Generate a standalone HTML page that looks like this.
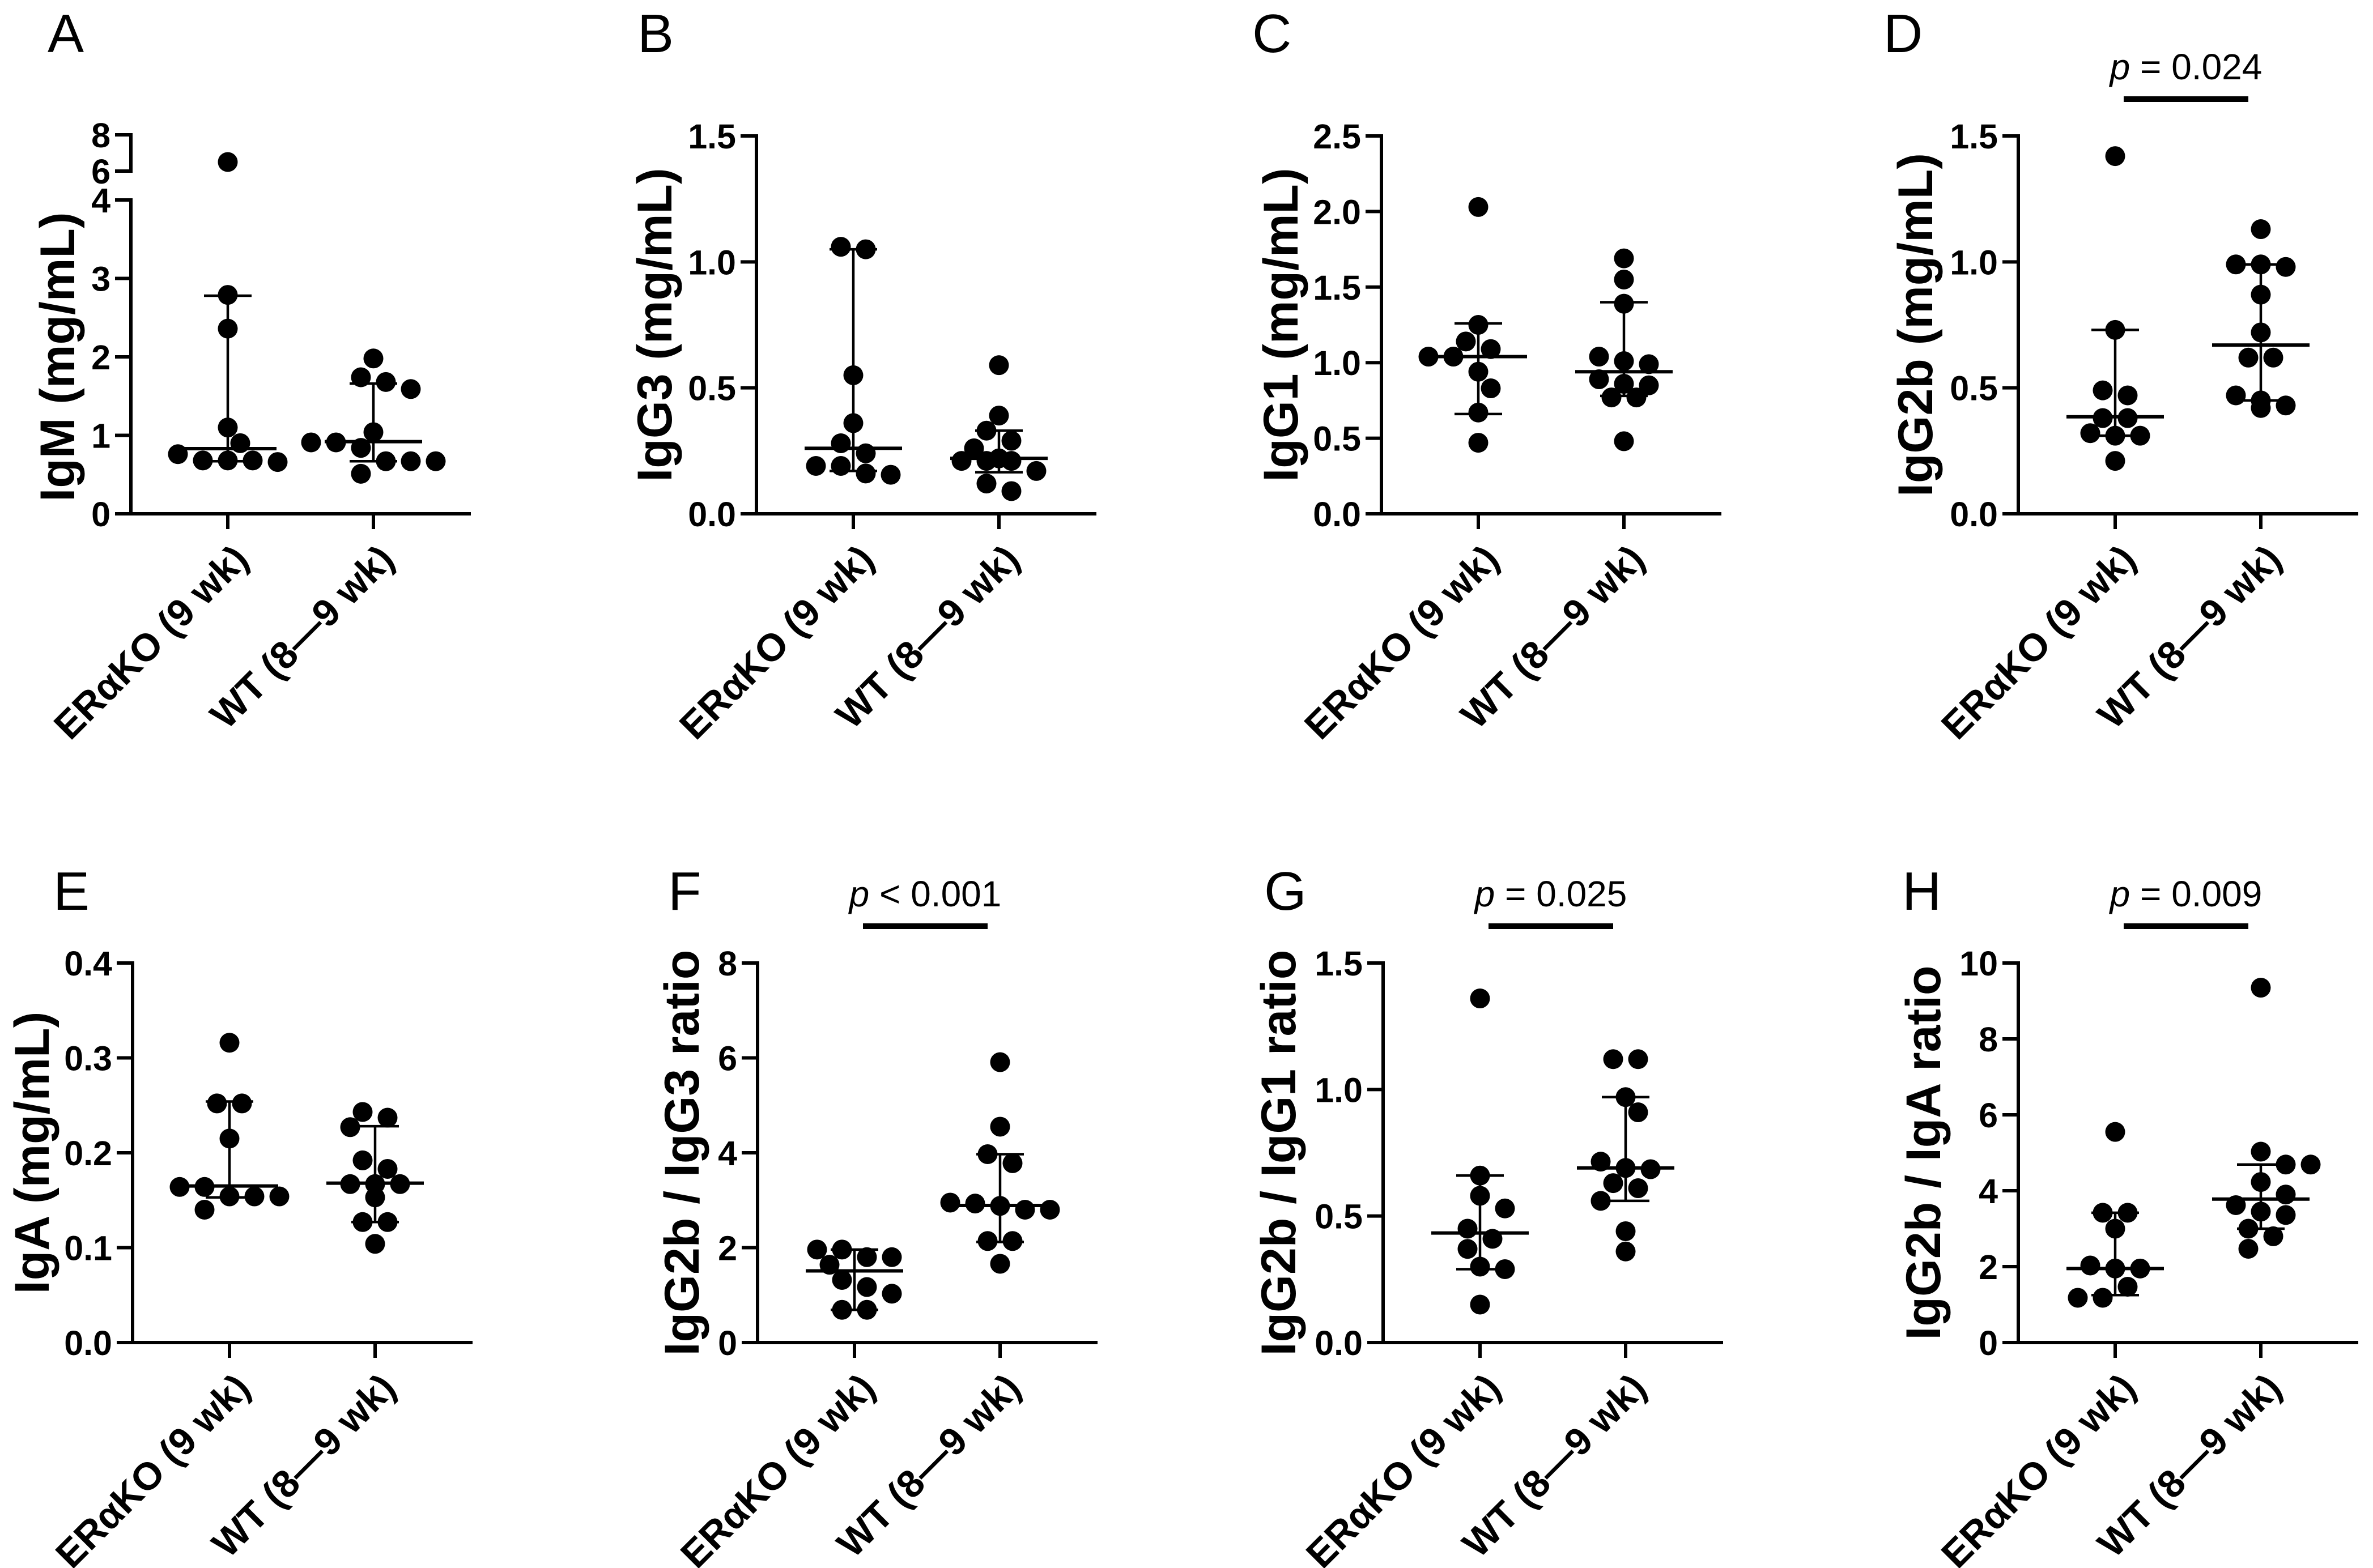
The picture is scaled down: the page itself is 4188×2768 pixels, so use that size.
<!DOCTYPE html>
<html><head><meta charset="utf-8"><style>
html,body{margin:0;padding:0;background:#fff;}
svg{display:block;}
text{font-family:"Liberation Sans",Arial,sans-serif;fill:#000;}
</style></head>
<body>
<svg id="fig" width="4188" height="2768" viewBox="0 0 4188 2768" xmlns="http://www.w3.org/2000/svg">
<rect width="4188" height="2768" fill="#fff"/>
</svg>
<script>
const categories = ["ERαKO (9 wk)", "WT (8—9 wk)"];
// Panel A IgM
const aErako = [6.5, 2.79, 2.36, 1.10, 0.90, 0.76, 0.68, 0.68, 0.66, 0.68];
const aWt = [1.98, 1.74, 1.68, 1.59, 1.04, 0.91, 0.91, 0.84, 0.67, 0.67, 0.67, 0.51];
const aMedian = [0.83, 0.92]; const aQ1 = [0.67, 0.67]; const aQ3 = [2.78, 1.66];
const aTicks = [0, 1, 2, 3, 4]; const aBreakTicks = [6, 8];
// Panel B IgG3
const bErako = [1.06, 1.05, 0.55, 0.36, 0.28, 0.24, 0.19, 0.19, 0.16, 0.155];
const bWt = [0.59, 0.39, 0.33, 0.29, 0.26, 0.21, 0.22, 0.21, 0.21, 0.17, 0.12, 0.09];
const bMedian = [0.26, 0.22]; const bQ1 = [0.17, 0.165]; const bQ3 = [1.05, 0.33];
const bTicks = [0, 0.5, 1.0, 1.5];
// Panel C IgG1
const cErako = [2.03, 1.25, 1.14, 1.09, 1.04, 1.04, 0.94, 0.83, 0.67, 0.47];
const cWt = [1.69, 1.55, 1.39, 1.04, 1.01, 0.99, 0.89, 0.86, 0.85, 0.77, 0.77, 0.48];
const cMedian = [1.04, 0.94]; const cQ1 = [0.66, 0.78]; const cQ3 = [1.26, 1.40];
const cTicks = [0, 0.5, 1.0, 1.5, 2.0, 2.5];
// Panel D IgG2b
const dErako = [1.42, 0.73, 0.49, 0.47, 0.38, 0.38, 0.31, 0.32, 0.31, 0.21];
const dWt = [1.13, 0.98, 0.99, 0.99, 0.87, 0.72, 0.62, 0.62, 0.47, 0.45, 0.43, 0.42];
const dMedian = [0.385, 0.67]; const dQ1 = [0.31, 0.45]; const dQ3 = [0.73, 0.99];
const dTicks = [0, 0.5, 1.0, 1.5];
// Panel E IgA
const eErako = [0.316, 0.252, 0.252, 0.215, 0.164, 0.164, 0.154, 0.154, 0.154, 0.14];
const eWt = [0.243, 0.237, 0.227, 0.192, 0.183, 0.167, 0.167, 0.167, 0.153, 0.127, 0.127, 0.104];
const eMedian = [0.165, 0.168]; const eQ1 = [0.153, 0.127]; const eQ3 = [0.254, 0.228];
const eTicks = [0, 0.1, 0.2, 0.3, 0.4];
// Panel F IgG2b/IgG3
const fErako = [1.96, 1.96, 1.8, 1.8, 1.64, 1.32, 1.17, 1.03, 0.69, 0.69];
const fWt = [5.91, 4.55, 3.97, 3.78, 2.95, 2.93, 2.88, 2.8, 2.8, 2.14, 2.14, 1.66];
const fMedian = [1.51, 2.89]; const fQ1 = [0.69, 2.12]; const fQ3 = [1.96, 3.97];
const fTicks = [0, 2, 4, 6, 8];
// Panel G IgG2b/IgG1
const gErako = [1.36, 0.66, 0.58, 0.53, 0.45, 0.41, 0.37, 0.30, 0.29, 0.15];
const gWt = [1.12, 1.12, 0.97, 0.91, 0.715, 0.69, 0.685, 0.63, 0.61, 0.56, 0.44, 0.36];
const gMedian = [0.433, 0.69]; const gQ1 = [0.29, 0.56]; const gQ3 = [0.66, 0.97];
const gTicks = [0, 0.5, 1.0, 1.5];
// Panel H IgG2b/IgA
const hErako = [5.55, 3.42, 3.42, 3.0, 2.03, 1.95, 1.95, 1.47, 1.18, 1.18];
const hWt = [9.35, 5.03, 4.69, 4.69, 4.23, 3.9, 3.62, 3.45, 3.36, 3.0, 2.8, 2.47];
const hMedian = [1.95, 3.78]; const hQ1 = [1.25, 3.0]; const hQ3 = [3.42, 4.69];
const hTicks = [0, 2, 4, 6, 8, 10];
const pLabels = ["p = 0.024", "p < 0.001", "p = 0.025", "p = 0.009"];

const NS = "http://www.w3.org/2000/svg";
const svg = document.getElementById("fig");
function mk(tag, attrs, parent) {
  const e = document.createElementNS(NS, tag);
  for (const k in attrs) e.setAttribute(k, attrs[k]);
  (parent || svg).appendChild(e);
  return e;
}
const R = 17.5;
const SP = 44;

function layoutGroup(ys) {
  // rows of near-equal values, centered; shift row if colliding with earlier rows
  const idx = ys.map((y, i) => i).sort((a, b) => ys[a] - ys[b]);
  const rows = [];
  idx.forEach(i => {
    const last = rows[rows.length - 1];
    if (last && ys[i] - ys[last[0]] < 18) last.push(i); else rows.push([i]);
  });
  const out = new Array(ys.length);
  const placed = [];
  rows.forEach(row => {
    const n = row.length;
    const shifts = [0, SP / 2, -SP / 2, SP, -SP, 1.5 * SP, -1.5 * SP];
    let chosen = 0;
    for (const s of shifts) {
      const ok = row.every((i, k) => {
        const x = (k - (n - 1) / 2) * SP + s;
        return placed.every(p => Math.hypot(p.x - x, p.y - ys[i]) >= 2 * R - 2);
      });
      if (ok) { chosen = s; break; }
    }
    row.forEach((i, k) => {
      const x = (k - (n - 1) / 2) * SP + chosen;
      out[i] = x;
      placed.push({x, y: ys[i]});
    });
  });
  return out;
}

function drawPanel(cfg) {
  const g = mk("g", {});
  
  
  const ax = cfg.ax, y0 = cfg.y0, yTop = cfg.yTop, max = cfg.max;
  const yScale = cfg.yScale || (v => y0 - (v / max) * (y0 - yTop));
  const catX = [ax + 171, ax + 428];

  const L = mk("text", {x: cfg.lx, y: cfg.ly, "font-size": 96}, g);
  L.textContent = cfg.letter;
  
  

  const axisTop = cfg.axisTop !== undefined ? cfg.axisTop : yTop;
  const yl = mk("line", {x1: ax, y1: axisTop - 3, x2: ax, y2: y0 + 3, stroke: "#000", "stroke-width": 6}, g);
  
  
  const xl = mk("line", {x1: ax - 3, y1: y0, x2: ax + 600, y2: y0, stroke: "#000", "stroke-width": 6}, g);
  
  

  const allTicks = cfg.ticks.concat(cfg.breakTicks || []);
  allTicks.forEach(t => {
    const y = yScale(t);
    const tl = mk("line", {x1: ax - 28, y1: y, x2: ax, y2: y, stroke: "#000", "stroke-width": 6}, g);
    
    
    const tx = mk("text", {x: ax - 36, y: y + 22, "font-size": 61, "font-weight": "bold", "text-anchor": "end"}, g);
    tx.textContent = cfg.fmt(t);
    
    
  });
  if (cfg.breakTicks) {
    const b0 = yScale(cfg.breakTicks[0]), b1 = yScale(cfg.breakTicks[cfg.breakTicks.length - 1]);
    const bl = mk("line", {x1: ax, y1: b1 - 3, x2: ax, y2: b0 + 3, stroke: "#000", "stroke-width": 6}, g);
    
    
  }

  const my = (yTop + y0) / 2;
  const tt = mk("text", {x: 0, y: 0, "font-size": 86, "font-weight": "bold", "text-anchor": "middle",
    transform: `translate(${ax + cfg.titleOff},${my}) rotate(-90)`}, g);
  tt.textContent = cfg.title;
  
  

  categories.forEach((c, i) => {
    const tk = mk("line", {x1: catX[i], y1: y0, x2: catX[i], y2: y0 + 27, stroke: "#000", "stroke-width": 6}, g);
    
    
    const ct = mk("text", {x: 0, y: 0, "font-size": 68, "font-weight": "bold", "text-anchor": "end",
      transform: `translate(${catX[i] + 40},${y0 + 84}) rotate(-45)`}, g);
    ct.textContent = c;
    
    
  });

  [cfg.erako, cfg.wt].forEach((vals, gi) => {
    const cx = catX[gi];
    const yq1 = yScale(cfg.q1[gi]), yq3 = yScale(cfg.q3[gi]), ym = yScale(cfg.median[gi]);
    const v = mk("line", {x1: cx, y1: yq3, x2: cx, y2: yq1, stroke: "#000", "stroke-width": 4.5}, g);
    
    
    [yq1, yq3].forEach(yy => {
      const cap = mk("line", {x1: cx - 42, y1: yy, x2: cx + 42, y2: yy, stroke: "#000", "stroke-width": 4.5}, g);
      
      
    });
    const ys = vals.map(val => yScale(val));
    const offs = layoutGroup(ys);
    ys.forEach((y, i) => {
      const dot = mk("circle", {cx: cx + offs[i], cy: y, r: R, fill: "#000"}, g);
      
      
    });
    const ml = mk("line", {x1: cx - 86, y1: ym, x2: cx + 86, y2: ym, stroke: "#000", "stroke-width": 6}, g);
    
    
  });

  if (cfg.p) {
    const bx1 = catX[0] + 15, bx2 = catX[1] - 22, by = yTop - 65;
    const bar = mk("line", {x1: bx1, y1: by, x2: bx2, y2: by, stroke: "#000", "stroke-width": 10}, g);
    
    
    const pt = mk("text", {x: (bx1 + bx2) / 2, y: by - 35, "font-size": 64, "text-anchor": "middle"}, g);
    
    
    const parts = cfg.p.split(" ");
    const ts = mk("tspan", {"font-style": "italic"}, pt); ts.textContent = parts[0];
    const ts2 = mk("tspan", {}, pt); ts2.textContent = " " + parts.slice(1).join(" ");
  }
}

const f1 = t => t.toFixed(1), f0 = t => String(t);
const R1 = {y0: 907, yTop: 240, ly: 92};
const R2 = {y0: 2370, yTop: 1700, ly: 1606};

drawPanel({letter: "A", lx: 84, ly: R1.ly, ax: 231, y0: R1.y0, yTop: 353, axisTop: 353, max: 4,
  yScale: v => v <= 4 ? R1.y0 - v * (R1.y0 - 353) / 4 : 302 - (v - 6) * 32,
  ticks: aTicks, breakTicks: aBreakTicks, fmt: f0, title: "IgM (mg/mL)", titleOff: -100,
  erako: aErako, wt: aWt, median: aMedian, q1: aQ1, q3: aQ3});
drawPanel({letter: "B", lx: 1125, ly: R1.ly, ax: 1335, y0: R1.y0, yTop: R1.yTop, max: 1.5, ticks: bTicks, fmt: f1,
  title: "IgG3 (mg/mL)", titleOff: -150, erako: bErako, wt: bWt, median: bMedian, q1: bQ1, q3: bQ3});
drawPanel({letter: "C", lx: 2210, ly: R1.ly, ax: 2438, y0: R1.y0, yTop: R1.yTop, max: 2.5, ticks: cTicks, fmt: f1,
  title: "IgG1 (mg/mL)", titleOff: -148, erako: cErako, wt: cWt, median: cMedian, q1: cQ1, q3: cQ3});
drawPanel({letter: "D", lx: 3324, ly: R1.ly, ax: 3562, y0: R1.y0, yTop: R1.yTop, max: 1.5, ticks: dTicks, fmt: f1,
  title: "IgG2b (mg/mL)", titleOff: -152, erako: dErako, wt: dWt, median: dMedian, q1: dQ1, q3: dQ3, p: pLabels[0]});
drawPanel({letter: "E", lx: 94, ly: R2.ly, ax: 234, y0: R2.y0, yTop: R2.yTop, max: 0.4, ticks: eTicks, fmt: f1,
  title: "IgA (mg/mL)", titleOff: -148, erako: eErako, wt: eWt, median: eMedian, q1: eQ1, q3: eQ3});
drawPanel({letter: "F", lx: 1179, ly: R2.ly, ax: 1337, y0: R2.y0, yTop: R2.yTop, max: 8, ticks: fTicks, fmt: f0,
  title: "IgG2b / IgG3 ratio", titleOff: -104, erako: fErako, wt: fWt, median: fMedian, q1: fQ1, q3: fQ3, p: pLabels[1]});
drawPanel({letter: "G", lx: 2231, ly: R2.ly, ax: 2441, y0: R2.y0, yTop: R2.yTop, max: 1.5, ticks: gTicks, fmt: f1,
  title: "IgG2b / IgG1 ratio", titleOff: -155, erako: gErako, wt: gWt, median: gMedian, q1: gQ1, q3: gQ3, p: pLabels[2]});
drawPanel({letter: "H", lx: 3357, ly: R2.ly, ax: 3562, y0: R2.y0, yTop: R2.yTop, max: 10, ticks: hTicks, fmt: f0,
  title: "IgG2b / IgA ratio", titleOff: -138, erako: hErako, wt: hWt, median: hMedian, q1: hQ1, q3: hQ3, p: pLabels[3]});
</script>
</body></html>
